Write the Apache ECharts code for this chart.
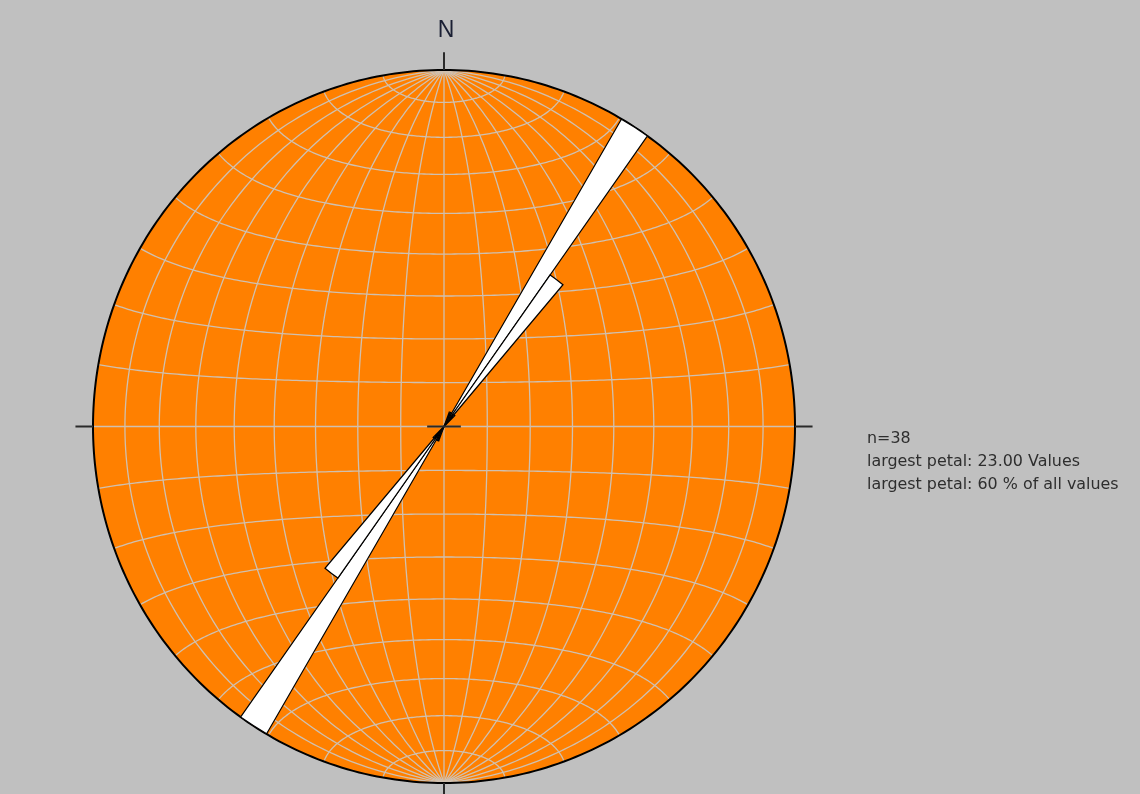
<!DOCTYPE html>
<html>
<head>
<meta charset="utf-8">
<script src="https://cdn.jsdelivr.net/npm/echarts@6/dist/echarts.min.js"></script>
<style>
  html, body { margin: 0; padding: 0; background: #c0c0c0; }
  #chart { width: 1140px; height: 794px; }
</style>
</head>
<body>
<div id="chart"></div>
<script>
// Axial rose diagram (5° classes, 0–180°, mirrored through the centre)
// drawn on an equal-area (Schmidt) net with a 10° graticule.

const classWidthDeg = 5;
const classStartsDeg = [
  0, 5, 10, 15, 20, 25, 30, 35, 40, 45, 50, 55,
  60, 65, 70, 75, 80, 85, 90, 95, 100, 105, 110, 115,
  120, 125, 130, 135, 140, 145, 150, 155, 160, 165, 170, 175
];
const classCounts = [
  0, 0, 0, 0, 1, 1, 23, 12, 1, 0, 0, 0,
  0, 0, 0, 0, 0, 0, 0, 0, 0, 0, 0, 0,
  0, 0, 0, 0, 0, 0, 0, 0, 0, 0, 0, 0
];
const netStepDeg = 10;
const northLabel = 'N';

// ---- derived values ----
const n = classCounts.reduce((a, b) => a + b, 0);
const largest = Math.max(...classCounts);
const largestPct = Math.floor(largest / n * 100);
const infoLines = [
  'n=' + n,
  'largest petal: ' + largest.toFixed(2) + ' Values',
  'largest petal: ' + largestPct + ' % of all values'
];

// Full-circle categories: each class and its opposite direction
const roseCategories = classStartsDeg.concat(classStartsDeg.map(d => d + 180))
  .map(d => d + '–' + (d + classWidthDeg) + '°');
const roseValues = classCounts.concat(classCounts).map(v => (v > 0 ? v : '-'));

// ---- equal-area equatorial projection, unit primitive circle ----
const rad = Math.PI / 180;
function project(latDeg, lonDeg) {
  const f = latDeg * rad, l = lonDeg * rad;
  const k = Math.sqrt(2 / (1 + Math.cos(f) * Math.cos(l)));
  return [k * Math.cos(f) * Math.sin(l) / Math.SQRT2, k * Math.sin(f) / Math.SQRT2];
}

const netLines = [];
for (let lon = -90 + netStepDeg; lon < 90; lon += netStepDeg) {
  const pts = [];
  for (let lat = -90; lat <= 90; lat += 1) pts.push(project(lat, lon));
  netLines.push({ coords: pts });
}
for (let lat = -90 + netStepDeg; lat < 90; lat += netStepDeg) {
  const pts = [];
  for (let lon = -90; lon <= 90; lon += 1) pts.push(project(lat, lon));
  netLines.push({ coords: pts });
}

const primitive = [];
for (let a = 0; a <= 360; a += 1) primitive.push([Math.sin(a * rad), Math.cos(a * rad)]);

// tick marks at N, E, S, W and the centre mark
const tickLen = 0.05, crossLen = 0.048;
const tickLines = [
  { coords: [[0, 1], [0, 1 + tickLen]] },
  { coords: [[0, -1], [0, -1 - tickLen]] },
  { coords: [[1, 0], [1 + tickLen, 0]] },
  { coords: [[-1, 0], [-1 - tickLen, 0]] },
  { coords: [[-crossLen, 0], [crossLen, 0]] }
];

// ---- layout ----
const cx = 444, cy = 426.5, rx = 351, ry = 356.5;
const xSpan = 1.1, yTop = 1.1, yBottom = 1.03;

const chart = echarts.init(document.getElementById('chart'), null, { renderer: 'canvas' });
chart.setOption({
  backgroundColor: '#c0c0c0',
  animation: false,
  grid: {
    left: cx - rx * xSpan, top: cy - ry * yTop,
    width: 2 * rx * xSpan, height: ry * (yTop + yBottom),
    show: false
  },
  xAxis: { type: 'value', min: -xSpan, max: xSpan, show: false },
  yAxis: { type: 'value', min: -yBottom, max: yTop, show: false },
  polar: { center: [cx, cy], radius: (rx + ry) / 2 + 1 },
  angleAxis: {
    type: 'category', data: roseCategories, startAngle: 90, clockwise: true,
    boundaryGap: true, show: false
  },
  radiusAxis: { type: 'value', min: 0, max: largest, show: false },
  series: [
    {
      type: 'custom', coordinateSystem: 'cartesian2d', z: 1, silent: true,
      data: [[0, 0]],
      renderItem: (params, api) => ({
        type: 'polygon',
        shape: { points: primitive.map(p => api.coord(p)) },
        style: { fill: '#ff8000', stroke: null }
      })
    },
    {
      type: 'lines', coordinateSystem: 'cartesian2d', polyline: true, z: 2, silent: true,
      data: netLines,
      lineStyle: { color: '#cfc0b0', width: 1.3, opacity: 1 }
    },
    {
      type: 'lines', coordinateSystem: 'cartesian2d', polyline: true, z: 3, silent: true,
      data: [{ coords: primitive }],
      lineStyle: { color: '#000000', width: 2, opacity: 1 }
    },
    {
      type: 'bar', coordinateSystem: 'polar', z: 4, silent: true,
      data: roseValues, barCategoryGap: '0%', barGap: '0%',
      itemStyle: { color: '#ffffff', borderColor: '#000000', borderWidth: 1.2 }
    },
    {
      type: 'lines', coordinateSystem: 'cartesian2d', polyline: true, z: 5, silent: true,
      clip: false,
      data: tickLines,
      lineStyle: { color: '#2a2a2a', width: 2, opacity: 1 }
    }
  ],
  graphic: [
    {
      type: 'text', x: 446, y: 31,
      style: {
        text: northLabel, font: '23px "Liberation Sans", Arial, sans-serif',
        fill: '#1a1f33', textAlign: 'center', textVerticalAlign: 'middle'
      }
    },
    ...infoLines.map((t, i) => ({
      type: 'text', x: 867, y: 439 + i * 23,
      style: {
        text: t, font: '15.9px "DejaVu Sans", sans-serif',
        fill: '#2e2e2e', textAlign: 'left', textVerticalAlign: 'middle'
      }
    }))
  ]
});
</script>
</body>
</html>
